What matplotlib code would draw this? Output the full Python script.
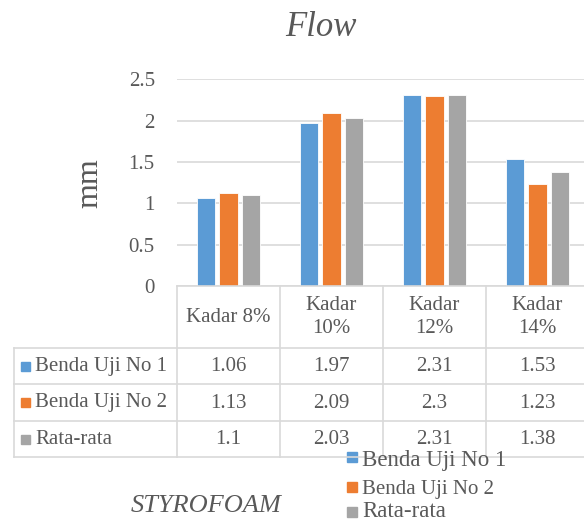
import matplotlib.pyplot as plt
from matplotlib.lines import Line2D
from matplotlib.patches import Rectangle

categories = ["Kadar 8%", "Kadar\n10%", "Kadar\n12%", "Kadar\n14%"]
series_names = ["Benda Uji No 1", "Benda Uji No 2", "Rata-rata"]
uji_1 = [1.06, 1.97, 2.31, 1.53]
uji_2 = [1.13, 2.09, 2.30, 1.23]
rata = [1.10, 2.03, 2.31, 1.38]
value_labels = [["1.06", "1.97", "2.31", "1.53"],
                ["1.13", "2.09", "2.3", "1.23"],
                ["1.1", "2.03", "2.31", "1.38"]]
colors = ["#5b9bd5", "#ed7d31", "#a5a5a5"]

W, H = 584, 523
TXT = "#595959"
GRID = "#d9d9d9"
plt.rcParams["font.family"] = ["Liberation Serif", "DejaVu Serif"]

fig = plt.figure(figsize=(W / 100, H / 100), dpi=100)


def fx(x):
    return x / W


def fy(y):
    return 1 - y / H


# plot area in pixel terms
x0, x1 = 177, 589
y_top, y_zero = 79.3, 286
ax = fig.add_axes([fx(x0), fy(y_zero), (x1 - x0) / W, (y_zero - y_top) / H])
ax.set_xlim(0, 4)
ax.set_ylim(0, 2.5)
ax.set_yticks([0, 0.5, 1, 1.5, 2, 2.5])
ax.set_yticklabels(["0", "0.5", "1", "1.5", "2", "2.5"])
ax.tick_params(axis="y", length=0, pad=16, labelsize=15, labelcolor=TXT)
ax.set_xticks([])
for s in ax.spines.values():
    s.set_visible(False)
ax.grid(axis="y", color=GRID, linewidth=1.2)
ax.set_axisbelow(True)

bw = 0.175
step = 0.223
for k, vals in enumerate([uji_1, uji_2, rata]):
    xs = [i + 0.5 + (k - 1) * step for i in range(len(vals))]
    ax.bar(xs, vals, width=bw, color=colors[k], edgecolor="white", linewidth=0.6)

fig.text(fx(90), fy(183), "mm", rotation=90, ha="center", va="center",
         fontsize=23, color=TXT)
fig.text(fx(321), fy(28), "Flow", ha="center", va="center",
         fontsize=25, style="italic", color=TXT)

# data table under the axis
col_edges = [177, 280, 383, 486, 589]
row_edges = [286, 348, 384, 421, 457]
lw = 1.2


def hline(y, xa, xb):
    fig.add_artist(Line2D([fx(xa), fx(xb)], [fy(y), fy(y)], color=GRID, lw=lw))


def vline(x, ya, yb):
    fig.add_artist(Line2D([fx(x), fx(x)], [fy(ya), fy(yb)], color=GRID, lw=lw))


hline(row_edges[0], col_edges[0], W)
for y in row_edges[1:]:
    hline(y, 14, W)
vline(14, row_edges[1], row_edges[-1])
for x in col_edges[:-1]:
    vline(x, row_edges[0], row_edges[-1])

for j, cat in enumerate(categories):
    cx = (col_edges[j] + col_edges[j + 1]) / 2
    cy = (row_edges[0] + row_edges[1]) / 2
    fig.text(fx(cx), fy(cy), cat, ha="center", va="center", fontsize=15,
             color=TXT, linespacing=1.3)

for k, name in enumerate(series_names):
    cy = (row_edges[k + 1] + row_edges[k + 2]) / 2
    base = cy + 5
    fig.add_artist(Rectangle((fx(21), fy(cy + 4.5)), 9 / W, 9 / H,
                             transform=fig.transFigure, color=colors[k]))
    fig.text(fx(35), fy(base), name, ha="left", va="baseline", fontsize=15, color=TXT)
    for j, lab in enumerate(value_labels[k]):
        cx = (col_edges[j] + col_edges[j + 1]) / 2
        fig.text(fx(cx), fy(base), lab, ha="center", va="baseline",
                 fontsize=15, color=TXT)

# legend below the table
marker_y = [457, 487, 512]
baseline_y = [466, 494, 517]
legend_size = [16.5, 15, 16.5]
for k, name in enumerate(series_names):
    fig.add_artist(Rectangle((fx(347), fy(marker_y[k] + 5)), 10 / W, 10 / H,
                             transform=fig.transFigure, color=colors[k]))
    fig.text(fx(362), fy(baseline_y[k]), name, ha="left", va="baseline",
             fontsize=legend_size[k], color=TXT)

fig.text(fx(206), fy(512), "STYROFOAM", ha="center", va="baseline",
         fontsize=19, style="italic", color=TXT)

fig.savefig("out.png", dpi=100)
